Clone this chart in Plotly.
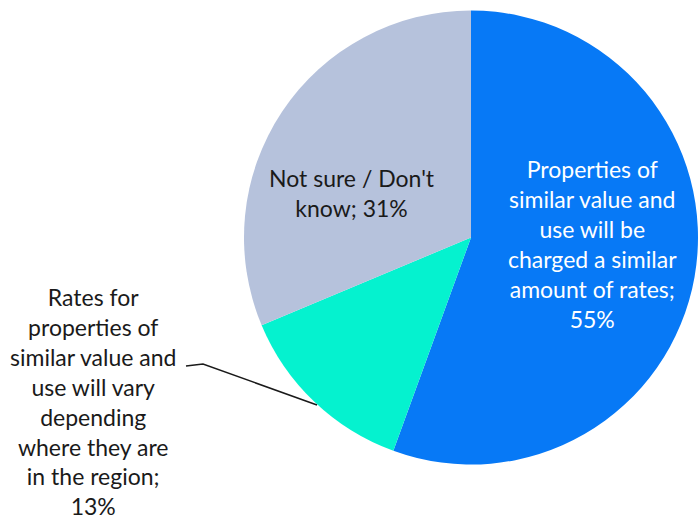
import plotly.graph_objects as go

# Survey responses on how rates will be charged across the region
labels = [
    "Properties of similar value and use will be charged a similar amount of rates",
    "Rates for properties of similar value and use will vary depending where they are in the region",
    "Not sure / Don't know",
]
values = [55, 13, 31]
colors = ["#0779F6", "#05F2CF", "#B6C2DC"]

# Wrapped label text for each slice (label; value%)
wrapped = [
    ["Properties of", "similar value and", "use will be", "charged a similar", "amount of rates;"],
    ["Rates for", "properties of", "similar value and", "use will vary", "depending",
     "where they are", "in the region;"],
    ["Not sure / Don't", "know; 31%"],
]

W, H = 698, 520

fig = go.Figure(
    go.Pie(
        labels=labels,
        values=values,
        marker=dict(colors=colors, line=dict(width=0)),
        sort=False,
        direction="clockwise",
        rotation=0,
        textinfo="none",
        hoverinfo="label+percent",
        showlegend=False,
        domain=dict(x=[244 / W, 1.0], y=[54.5 / H, 510.5 / H]),
    )
)


def px(x, y):
    return x / W, 1 - y / H


def label_text(i):
    lines = list(wrapped[i])
    if not lines[-1].endswith("%"):
        lines.append(f"{values[i]}%")
    return "<br>".join(lines)


font_family = "Lato, 'Open Sans', sans-serif"
label_specs = [
    (0, 592, 244, "#FFFFFF"),
    (1, 93, 401, "#1A1A1A"),
    (2, 352, 193, "#1A1A1A"),
]
annotations = []
for i, cx, cy, col in label_specs:
    ax, ay = px(cx, cy)
    annotations.append(
        dict(
            x=ax, y=ay, xref="paper", yref="paper",
            text=label_text(i), showarrow=False,
            xanchor="center", yanchor="middle", align="center",
            font=dict(family=font_family, size=23, color=col),
        )
    )

# Leader line from the outside label to its slice
pts = [(186, 366), (203, 364), (317, 405)]
path = "M " + " L ".join(f"{px(x, y)[0]},{px(x, y)[1]}" for x, y in pts)

fig.update_layout(
    width=W,
    height=H,
    margin=dict(l=0, r=0, t=0, b=0),
    paper_bgcolor="white",
    plot_bgcolor="white",
    annotations=annotations,
    shapes=[dict(type="path", path=path, xref="paper", yref="paper",
                 line=dict(color="#1A1A1A", width=1.5))],
)

fig.write_html("out.html")
